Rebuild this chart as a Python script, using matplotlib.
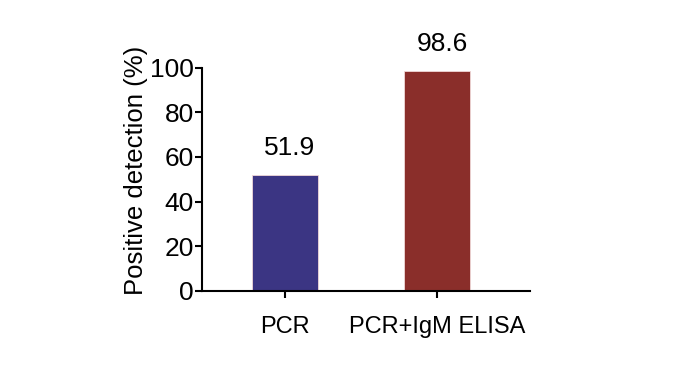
import matplotlib.pyplot as plt

# values
categories = ["PCR", "PCR+IgM ELISA"]
detection = [51.9, 98.6]
bar_colors = ["#3b3583", "#8a2e2a"]
yticks = [0, 20, 40, 60, 80, 100]

plt.rcParams["font.family"] = ["Liberation Sans", "DejaVu Sans"]

fig = plt.figure(figsize=(6.8, 3.69), dpi=100)
ax = fig.add_axes([0.2966, 0.2122, 0.4828, 0.6043])

x = range(len(categories))
bars = ax.bar(x, detection, width=0.43, color=bar_colors,
              edgecolor="#f0d8d8", linewidth=0.6)

for xi, v in zip(x, detection):
    ax.annotate(f"{v}", (xi, v), xytext=(3.5, 11), textcoords="offset points",
                ha="center", va="bottom", fontsize=19)

ax.set_xlim(-0.548, 1.61)
ax.set_ylim(0, 100)
ax.set_yticks(yticks)
ax.set_xticks(list(x))
ax.set_xticklabels(categories, fontsize=17)
ax.tick_params(axis="y", labelsize=19, width=1.5, length=5, pad=0.5)
ax.tick_params(axis="x", width=1.5, length=5, pad=13)
ax.set_ylabel("Positive detection (%)", fontsize=18.5)
ax.yaxis.set_label_coords(-0.165, 0.54)

for side in ["top", "right"]:
    ax.spines[side].set_visible(False)
for side in ["left", "bottom"]:
    ax.spines[side].set_linewidth(1.5)

fig.savefig("out.png", dpi=100)
